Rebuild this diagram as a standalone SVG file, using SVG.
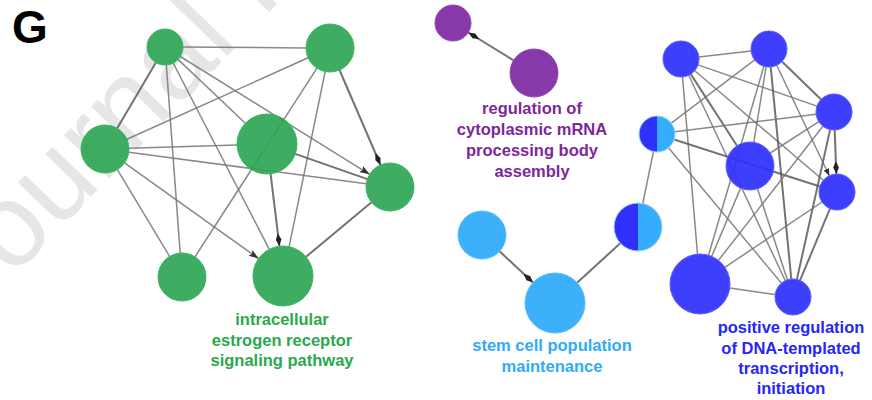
<svg xmlns="http://www.w3.org/2000/svg" width="872" height="400" viewBox="0 0 872 400">
<style>
.e{stroke:#747474;stroke-width:1.5;stroke-opacity:0.85;fill:none}
.t{stroke:#5a5a5a;stroke-width:2}
.lbl{font-family:"Liberation Sans",Arial,sans-serif;font-weight:bold;font-size:16.5px;text-anchor:middle}
.gn{fill:#2ea655;fill-opacity:0.92;stroke:#3cb464;stroke-width:1}
.pn{fill:#8231a6;fill-opacity:0.96;stroke:#9448b6;stroke-width:1}
.cn{fill:#35adfc;fill-opacity:0.96;stroke:#5cbcfc;stroke-width:1}
.bn{fill:#2f2ffd;fill-opacity:0.93;stroke:#5c5cfc;stroke-width:1}
.cy{fill:#35adfc}
.db{fill:#3030fd}
</style>
<defs>
<marker id="arr" markerUnits="userSpaceOnUse" markerWidth="10" markerHeight="7" refX="10" refY="3.5" orient="auto">
<path d="M0,0 L10,3.5 L0,7 L2,3.5 z" fill="#333"/>
</marker>
<marker id="dia" markerUnits="userSpaceOnUse" markerWidth="13" markerHeight="6" refX="13" refY="3" orient="auto">
<path d="M0,3 L6.5,0.2 L13,3 L6.5,5.8 z" fill="#222"/>
</marker>
<marker id="sarr" markerUnits="userSpaceOnUse" markerWidth="7" markerHeight="6" refX="7" refY="3" orient="auto">
<path d="M0,0 L7,3 L0,6 z" fill="#333"/>
</marker>
</defs>
<rect width="872" height="400" fill="#ffffff"/>
<text x="-29" y="321" transform="rotate(-46 -29 321)" font-family="Liberation Sans,Arial,sans-serif" font-size="118" fill="#e6e6e6">Journal Pre-proof</text>
<text x="12" y="43" font-family="Liberation Sans,Arial,sans-serif" font-weight="bold" font-size="46" fill="#000">G</text>
<g id="connectors">
<line class="e" x1="183" y1="47.1" x2="306" y2="47.9"/>
<line class="e t" x1="155.9" y1="62.5" x2="117.2" y2="128.3"/>
<line class="e" x1="166.3" y1="64.9" x2="180.2" y2="253.1"/>
<line class="e" x1="173.2" y1="63" x2="269.3" y2="249.3"/>
<line class="e" x1="178" y1="59.4" x2="245.3" y2="123.3"/>
<line class="e" x1="180.3" y1="56.5" x2="369.6" y2="174.3" marker-end="url(#arr)"/>
<line class="e" x1="308.1" y1="57.8" x2="126.9" y2="139.2"/>
<line class="e" x1="317" y1="68.2" x2="195" y2="256.8"/>
<line class="e" x1="325.2" y1="71.5" x2="289.1" y2="246.6"/>
<line class="e t" x1="339.5" y1="70" x2="380.5" y2="165" marker-end="url(#dia)"/>
<line class="e" x1="129" y1="148.3" x2="237" y2="144.9"/>
<line class="e" x1="128.8" y1="152.2" x2="366.2" y2="183.8"/>
<line class="e" x1="117.4" y1="169.6" x2="169.6" y2="256.4"/>
<line class="e" x1="124.5" y1="162.9" x2="258.6" y2="258.6" marker-end="url(#arr)"/>
<line class="e t" x1="295.3" y1="153.9" x2="367.3" y2="179.1"/>
<line class="e t" x1="270.6" y1="173.8" x2="279.4" y2="246.2" marker-end="url(#dia)"/>
<line class="e t" x1="371.5" y1="202.3" x2="306.1" y2="256.8"/>
<line class="e t" x1="513.6" y1="60.4" x2="468.3" y2="32.5" marker-end="url(#dia)"/>
<line class="e t" x1="499.6" y1="251.3" x2="533" y2="282.6" marker-end="url(#dia)"/>
<line class="e t" x1="577.1" y1="282.7" x2="620.3" y2="243.2"/>
<line class="e" x1="642.8" y1="203.5" x2="653.4" y2="151.6"/>
<line class="e" x1="698.9" y1="57" x2="751.1" y2="51"/>
<line class="e" x1="698" y1="64.9" x2="817" y2="106.1"/>
<line class="e" x1="682.5" y1="76.9" x2="697.5" y2="254.1"/>
<line class="e t" x1="690.8" y1="74.1" x2="737" y2="145.8"/>
<line class="e" x1="688.7" y1="75.3" x2="785.3" y2="280.7"/>
<line class="e" x1="694.7" y1="70.7" x2="823.3" y2="180.3"/>
<line class="e" x1="754.7" y1="59.9" x2="671.3" y2="123.1"/>
<line class="e t" x1="781.9" y1="61.5" x2="821.1" y2="99.5"/>
<line class="e" x1="766.1" y1="66.8" x2="753.8" y2="142.3"/>
<line class="e" x1="763.9" y1="66.3" x2="708.5" y2="255.2"/>
<line class="e t" x1="770.7" y1="66.9" x2="791.3" y2="279.1"/>
<line class="e" x1="776.7" y1="65.3" x2="829.3" y2="175.7" marker-end="url(#sarr)"/>
<line class="e" x1="674.9" y1="131.8" x2="816.1" y2="114.2"/>
<line class="e t" x1="674.1" y1="139.5" x2="819.9" y2="186.5"/>
<line class="e" x1="668.5" y1="147.8" x2="781.5" y2="283.2"/>
<line class="e t" x1="834.7" y1="130" x2="836.3" y2="174" marker-end="url(#dia)"/>
<line class="e" x1="822.9" y1="126.2" x2="718.5" y2="260.3"/>
<line class="e t" x1="830.1" y1="129.6" x2="796.9" y2="279.4"/>
<line class="e" x1="818.9" y1="121.7" x2="770.2" y2="153"/>
<line class="e" x1="740.6" y1="188.1" x2="711.7" y2="256.4"/>
<line class="e" x1="757.5" y1="188.8" x2="787.4" y2="279.9"/>
<line class="e" x1="822.1" y1="202" x2="724.9" y2="267.3"/>
<line class="e t" x1="830" y1="208.6" x2="800" y2="280.4"/>
<line class="e" x1="729.7" y1="288.1" x2="775.2" y2="294.5"/>
</g>
<g id="g1"><circle class="gn" cx="165" cy="47" r="18"/></g>
<g id="g2"><circle class="gn" cx="330" cy="48" r="24"/></g>
<g id="g3"><circle class="gn" cx="105" cy="149" r="24"/></g>
<g id="g4"><circle class="gn" cx="267" cy="144" r="30"/></g>
<g id="g5"><circle class="gn" cx="390" cy="187" r="24"/></g>
<g id="g6"><circle class="gn" cx="182" cy="277" r="24"/></g>
<g id="g7"><circle class="gn" cx="283" cy="276" r="30"/>
<text class="lbl" fill="#2aa84e"><tspan x="282" y="325">intracellular</tspan><tspan x="282" y="345.5">estrogen receptor</tspan><tspan x="282" y="366">signaling pathway</tspan></text></g>
<g id="p1"><circle class="pn" cx="453" cy="23" r="18"/></g>
<g id="p2"><circle class="pn" cx="534" cy="73" r="24"/>
<text class="lbl" fill="#7c289a"><tspan x="532" y="113.5">regulation of</tspan><tspan x="532" y="134.5">cytoplasmic mRNA</tspan><tspan x="532" y="155.5">processing body</tspan><tspan x="532" y="176.5">assembly</tspan></text></g>
<g id="c1"><circle class="cn" cx="482" cy="235" r="24"/></g>
<g id="c2"><circle class="cn" cx="555" cy="303" r="30"/>
<text class="lbl" fill="#30abf8"><tspan x="552" y="351">stem cell population</tspan><tspan x="552" y="371.5">maintenance</tspan></text></g>
<g id="c3"><path class="db" d="M638,203 A24,24 0 0,0 638,251 Z"/><path class="cy" d="M638,203 A24,24 0 0,1 638,251 Z"/><circle cx="638" cy="227" r="24" fill="none" stroke="#9fd4fc" stroke-width="1"/></g>
<g id="b1"><circle class="bn" cx="681" cy="59" r="18"/></g>
<g id="b2"><circle class="bn" cx="769" cy="49" r="18"/></g>
<g id="b3"><path class="db" d="M657,116 A18,18 0 0,0 657,152 Z"/><path class="cy" d="M657,116 A18,18 0 0,1 657,152 Z"/><circle cx="657" cy="134" r="18" fill="none" stroke="#9fd4fc" stroke-width="1"/></g>
<g id="b4"><circle class="bn" cx="834" cy="112" r="18"/></g>
<g id="b5"><circle class="bn" cx="750" cy="166" r="24"/></g>
<g id="b6"><circle class="bn" cx="837" cy="192" r="18"/></g>
<g id="b7"><circle class="bn" cx="700" cy="284" r="30"/></g>
<g id="b8"><circle class="bn" cx="793" cy="297" r="18"/>
<text class="lbl" fill="#2626f5"><tspan x="791" y="333">positive regulation</tspan><tspan x="791" y="353.5">of DNA-templated</tspan><tspan x="791" y="374">transcription,</tspan><tspan x="791" y="394">initiation</tspan></text></g>
</svg>
